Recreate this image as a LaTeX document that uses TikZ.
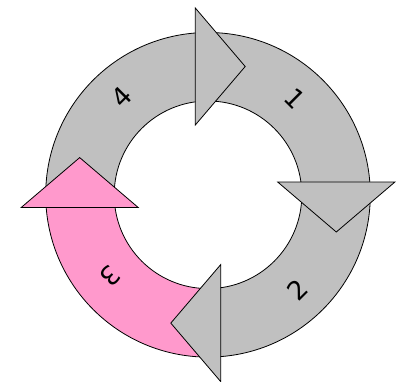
\documentclass[tikz,border=0pt]{standalone}
\usepackage{fontspec}
\setmainfont{DejaVu Sans}
\definecolor{ringgrey}{RGB}{192,192,192}
\definecolor{ringpink}{RGB}{255,153,204}
\tikzset{
  body/.style={draw=black, line width=0.8pt, line join=round},
  headshape/.style={draw=black, line width=0.8pt, line join=miter},
  numlabel/.style={inner sep=0pt, font=\fontsize{26}{26}\selectfont}
}
\newcommand{\Rout}{162.3}
\newcommand{\Rin}{93.8}
\begin{document}
\begin{tikzpicture}[x=1pt,y=1pt]
\useasboundingbox (-208,-187.2) rectangle (193,194.8);
% bodies
\path[body, fill=ringgrey] (90:\Rout) arc[start angle=90, end angle=0, radius=\Rout] -- (0:\Rin) arc[start angle=0, end angle=90, radius=\Rin] -- cycle;
\path[body, fill=ringgrey] (0:\Rout) arc[start angle=0, end angle=-90, radius=\Rout] -- (-90:\Rin) arc[start angle=-90, end angle=0, radius=\Rin] -- cycle;
\path[body, fill=ringpink] (-90:\Rout) arc[start angle=-90, end angle=-180, radius=\Rout] -- (-180:\Rin) arc[start angle=-180, end angle=-90, radius=\Rin] -- cycle;
\path[body, fill=ringgrey] (180:\Rout) arc[start angle=180, end angle=90, radius=\Rout] -- (90:\Rin) arc[start angle=90, end angle=180, radius=\Rin] -- cycle;
% heads
\path[headshape, fill=ringgrey] (-12.7,69.8) -- (37.2,128.3) -- (-12.7,186.8) -- cycle;
\path[headshape, fill=ringgrey, rotate=-90] (-12.7,69.8) -- (37.2,128.3) -- (-12.7,186.8) -- cycle;
\path[headshape, fill=ringgrey, rotate=-180] (-12.7,69.8) -- (37.2,128.3) -- (-12.7,186.8) -- cycle;
\path[headshape, fill=ringpink, rotate=-270] (-12.7,69.8) -- (37.2,128.3) -- (-12.7,186.8) -- cycle;
% labels
\node[numlabel, rotate=-45] (l1) at (87,95.8) {1};
\node[numlabel, rotate=45] (l2) at (89.7,-95.5) {2};
\node[numlabel, rotate=-135] (l3) at (-97.2,-81.5) {3};
\node[numlabel, rotate=45] (l4) at (-86.7,97.8) {4};
\end{tikzpicture}
\end{document}
